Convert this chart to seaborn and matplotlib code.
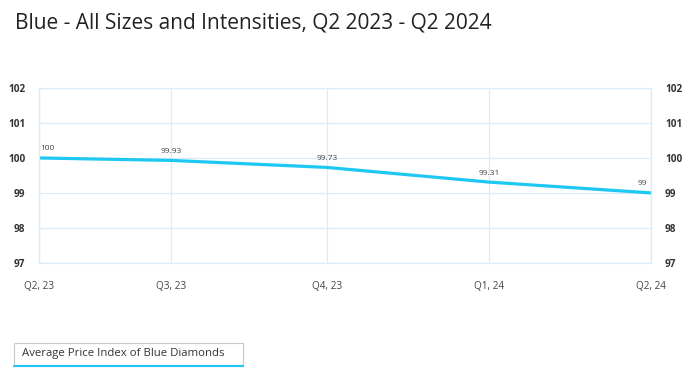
#!/usr/bin/env python3
import pandas as pd
import seaborn as sns
import matplotlib.pyplot as plt
from matplotlib.lines import Line2D
from matplotlib.patches import Rectangle

sns.set_theme(style="white")
plt.rcParams["font.family"] = ["Open Sans", "DejaVu Sans"]

# data
dates = ["2023-04-01", "2023-06-19", "2023-09-20", "2023-12-26", "2024-04-01"]
quarter_labels = ["Q2, 23", "Q3, 23", "Q4, 23", "Q1, 24", "Q2, 24"]
price_index = [100, 99.93, 99.73, 99.31, 99]
value_labels = ["100", "99.93", "99.73", "99.31", "99"]
y_ticks = [97, 98, 99, 100, 101, 102]

LINE = "#1ec8f2"
GRID = "#d8ecfa"

df = pd.DataFrame({"date": pd.to_datetime(dates), "index": price_index})

fig = plt.figure(figsize=(6.98, 3.81), dpi=100)
ax = fig.add_axes([0.056, 0.31, 0.877, 0.459])

sns.lineplot(data=df, x="date", y="index", color=LINE, linewidth=2.3, ax=ax)

ax.set_xlim(df["date"].iloc[0], df["date"].iloc[-1])
ax.set_ylim(97, 102)
ax.set_yticks(y_ticks)
ax.set_yticklabels([str(t) for t in y_ticks])
ax.set_xticks(df["date"])
ax.set_xticklabels(quarter_labels)
ax.set_xlabel("")
ax.set_ylabel("")

ax.grid(True, color=GRID, linewidth=0.9)
for s in ax.spines.values():
    s.set_color(GRID)
    s.set_linewidth(0.9)

ax.tick_params(axis="y", labelright=True, left=False, right=False,
               labelsize=7.2, colors="#333333", pad=4)
for lbl in ax.get_yticklabels():
    lbl.set_fontweight("bold")
ax.tick_params(axis="x", bottom=False, labelsize=7.2, colors="#444444", pad=7)

# point labels
n = len(df)
for i, (d, v, t) in enumerate(zip(df["date"], df["index"], value_labels)):
    ha = "center"
    dx = 0
    if i == 0:
        ha, dx = "left", 1
    elif i == n - 1:
        ha, dx = "right", -3
    ax.annotate(t, xy=(d, v), xytext=(dx, 4), textcoords="offset points",
                ha=ha, va="bottom", fontsize=6, color="#444444")

fig.text(0.021, 0.94, "Blue - All Sizes and Intensities, Q2 2023 - Q2 2024",
         fontsize=15, color="#222222", va="center", ha="left")

# legend box with underline
fig.add_artist(Rectangle((0.020, 0.040), 0.328, 0.060, transform=fig.transFigure,
                         facecolor="white", edgecolor="#c8c8c8", linewidth=0.8))
fig.add_artist(Line2D([0.020, 0.348], [0.040, 0.040], color=LINE, linewidth=1.5,
                      transform=fig.transFigure))
fig.text(0.032, 0.071, "Average Price Index of Blue Diamonds", fontsize=8.2,
         color="#333333", va="center", ha="left")

fig.savefig("out.png", dpi=100)
